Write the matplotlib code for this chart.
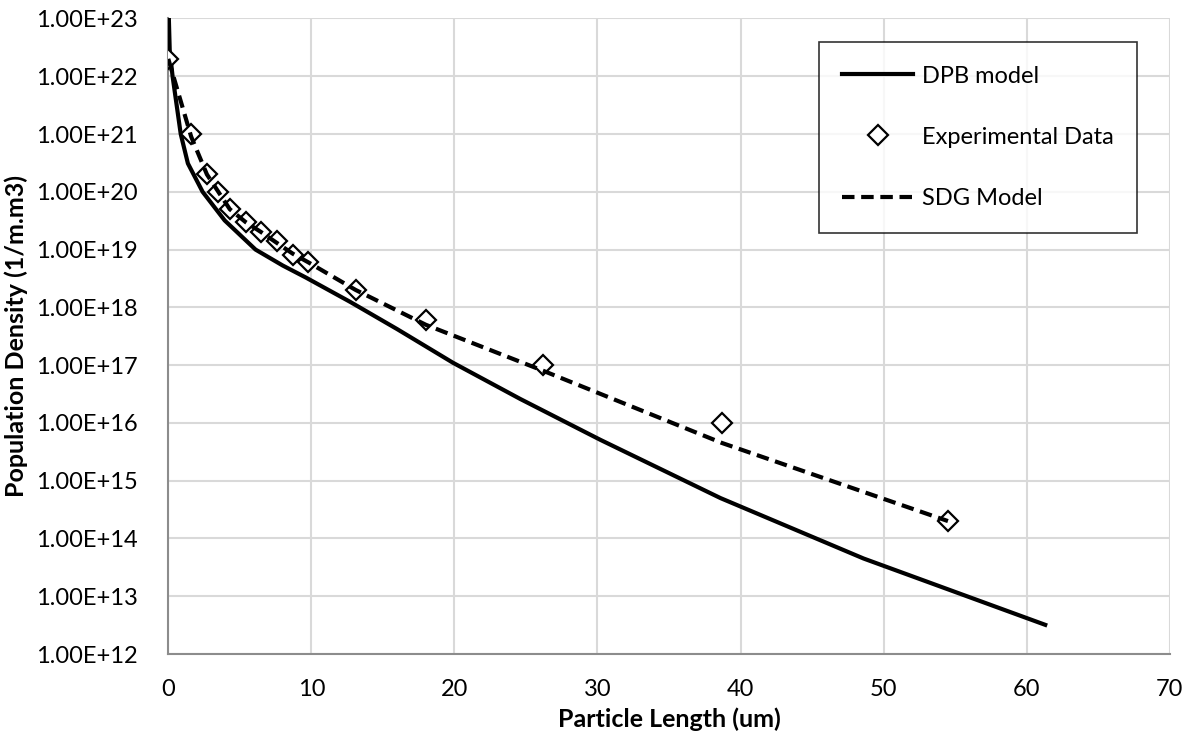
import math
import matplotlib
matplotlib.use("Agg")
import matplotlib.pyplot as plt
from matplotlib.ticker import FixedLocator, FuncFormatter

plt.rcParams['font.family'] = ['Lato', 'DejaVu Sans']

# DPB model (solid line)
dpb_x = [0.02, 0.1, 0.3, 0.87, 1.37, 2.4, 3.94, 6.1, 8.0, 9.6, 12.7, 16.0, 19.9, 24.6, 30.2, 38.6, 48.6, 61.3]
dpb_y = [1.5e23, 2.8e22, 1.0e22, 1.0e21, 3.1e20, 1.0e20, 3.2e19, 1.0e19, 5.3e18, 3.3e18, 1.25e18,
         4.2e17, 1.1e17, 2.6e16, 5.1e15, 5.0e14, 4.5e13, 3.2e12]

# Experimental data (diamonds)
exp_x = [0, 1.6, 2.7, 3.5, 4.3, 5.4, 6.5, 7.6, 8.7, 9.8, 13.1, 18.0, 26.2, 38.7, 54.5]
exp_y = [2e22, 1e21, 2e20, 1e20, 5e19, 3e19, 2e19, 1.4e19, 8e18, 6e18, 2e18, 6e17, 1e17, 1e16, 2e14]

# SDG model (dashed line)
sdg_x = [0, 1.6, 2.7, 3.5, 4.3, 5.4, 6.5, 7.6, 8.7, 9.8, 13.1, 18.0, 26.2, 38.7, 54.5]
sdg_y = [2e22, 9e20, 2e20, 1e20, 5e19, 3e19, 2e19, 1.3e19, 8.5e18, 6e18, 2e18, 5e17, 8e16, 4.5e15, 2e14]

fig = plt.figure(figsize=(11.91, 7.37), dpi=100)
ax = fig.add_axes([0.1413, 0.1126, 0.8408, 0.8623])

ax.plot(dpb_x, dpb_y, color="black", lw=3.0, label="DPB model", zorder=3)
ax.plot(exp_x, exp_y, linestyle="none", marker="D", markersize=10.5, markerfacecolor="white",
        markeredgecolor="black", markeredgewidth=1.6, label="Experimental Data", zorder=4)
ax.plot(sdg_x, sdg_y, color="black", lw=3.0, linestyle=(0, (3, 1.6)), label="SDG Model", zorder=5)

ax.set_yscale("log")
ax.set_xlim(0, 70)
ax.set_ylim(1e12, 1e23)
ax.set_xticks(range(0, 71, 10))
ax.yaxis.set_major_locator(FixedLocator([10.0 ** k for k in range(12, 24)]))
ax.yaxis.set_minor_locator(FixedLocator([]))
ax.yaxis.set_major_formatter(FuncFormatter(lambda v, p: "1.00E+%d" % round(math.log10(v))))

ax.grid(True, color="#d9d9d9", lw=1.5)
ax.set_axisbelow(True)
for s in ["top", "right"]:
    ax.spines[s].set_visible(False)
for s in ["left", "bottom"]:
    ax.spines[s].set_color("#8c8c8c")
    ax.spines[s].set_linewidth(1.5)
ax.tick_params(length=0, labelsize=17)
ax.tick_params(axis="y", pad=22)
ax.tick_params(axis="x", pad=18)

ax.set_xlabel("Particle Length (um)", fontsize=18, fontweight="bold", labelpad=5)
ax.set_ylabel("Population Density (1/m.m3)", fontsize=18, fontweight="bold", labelpad=6)

leg = ax.legend(loc="upper right", bbox_to_anchor=(0.9673, 0.963), fontsize=17, frameon=True,
                fancybox=False, edgecolor="black", handlelength=3.0, labelspacing=1.7,
                borderpad=1.0, handletextpad=0.35, borderaxespad=0)
leg.get_frame().set_linewidth(1.2)

fig.savefig("out.png", dpi=100)
